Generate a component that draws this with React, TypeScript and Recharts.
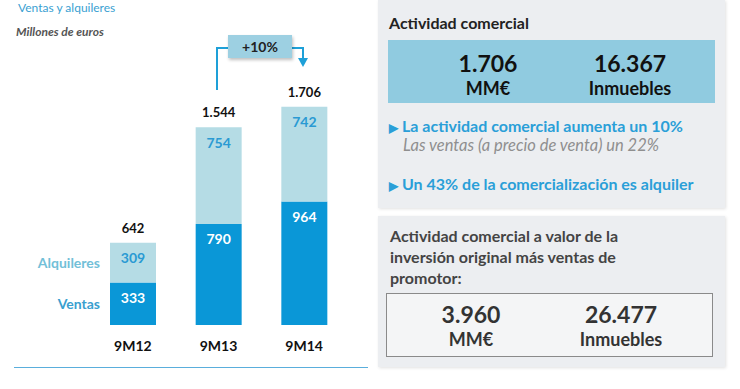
import React from "react";
import { BarChart, Bar, XAxis, YAxis, LabelList } from "recharts";

// Ventas y alquileres, millones de euros
const categories = ["9M12", "9M13", "9M14"];
const ventas = [333, 790, 964];
const alquileres = [309, 754, 742];
const totals = ["642", "1.544", "1.706"];

const data = categories.map((periodo, i) => ({
  periodo,
  ventas: ventas[i],
  alquileres: alquileres[i],
  total: totals[i],
}));

const FONT = "Lato, 'Open Sans', sans-serif";
const DARK = "#0a97d7";
const LIGHT = "#b5dce5";

const box = (p: any) => {
  const vb = p.viewBox || {};
  return {
    x: Number(p.x ?? vb.x),
    y: Number(p.y ?? vb.y),
    w: Number(p.width ?? vb.width),
    h: Number(p.height ?? vb.height),
  };
};

const insideLabel = (color: string) => (p: any) => {
  const { x, y, w } = box(p);
  return (
    <text x={x + w / 2} y={y + 15} fill={color} fontSize={14} fontWeight={700}
      textAnchor="middle" dominantBaseline="central" fontFamily={FONT}>
      {p.value}
    </text>
  );
};

const totalLabel = (p: any) => {
  const { x, y, w } = box(p);
  return (
    <text x={x + w / 2} y={y - 15} fill="#111" fontSize={13} fontWeight={700}
      textAnchor="middle" dominantBaseline="central" fontFamily={FONT}>
      {p.value}
    </text>
  );
};

const seriesName = (name: string, color: string) => (p: any) => {
  if (p.index !== 0) return null;
  const { x, y, h } = box(p);
  return (
    <text x={x - 10} y={y + h / 2} fill={color} fontSize={14} fontWeight={700}
      textAnchor="end" dominantBaseline="central" fontFamily={FONT}>
      {name}
    </text>
  );
};

const Figure = ({ top, bottom, left }: { top: string; bottom: string; left: number }) => (
  <div style={{ position: "absolute", left: left - 80, width: 160, top: 0, textAlign: "center", fontWeight: 700 }}>
    <div style={{ fontSize: 23, lineHeight: "24px", height: 24 }}>{top}</div>
    <div style={{ fontSize: 18, lineHeight: "20px", marginTop: 3 }}>{bottom}</div>
  </div>
);

export default function App() {
  return (
    <div style={{ position: "absolute", left: 0, top: 0, width: 740, height: 389, background: "#fff", fontFamily: FONT, overflow: "hidden" }}>
      <div style={{ position: "absolute", left: 18, top: 0, fontSize: 12, color: "#3a9fd2" }}>Ventas y alquileres</div>
      <div style={{ position: "absolute", left: 16, top: 24, fontSize: 12, color: "#555", fontStyle: "italic", fontWeight: 700 }}>Millones de euros</div>

      <div style={{ position: "absolute", left: 0, top: 0 }}>
        <BarChart width={370} height={389} data={data} margin={{ top: 69, right: 23, bottom: 34, left: 90 }}>
          <XAxis dataKey="periodo" axisLine={false} tickLine={false} tickMargin={10}
            tick={{ fill: "#111", fontSize: 14, fontWeight: 700, fontFamily: FONT }} />
          <YAxis hide domain={[0, 2000]} />
          <Bar dataKey="ventas" stackId="a" fill={DARK} barSize={46} isAnimationActive={false}>
            <LabelList dataKey="ventas" content={insideLabel("#fff")} />
            <LabelList dataKey="ventas" content={seriesName("Ventas", "#3a9fcf")} />
          </Bar>
          <Bar dataKey="alquileres" stackId="a" fill={LIGHT} barSize={46} isAnimationActive={false}>
            <LabelList dataKey="alquileres" content={insideLabel("#2a9ad3")} />
            <LabelList dataKey="alquileres" content={seriesName("Alquileres", "#72c0d8")} />
            <LabelList dataKey="total" content={totalLabel} />
          </Bar>
        </BarChart>
      </div>

      {/* +10% annotation */}
      <svg style={{ position: "absolute", left: 0, top: 0 }} width={370} height={120}>
        <polyline points="217,90 217,48 228,48" fill="none" stroke="#1ea0d8" strokeWidth={2} />
        <polyline points="292,48 303,48 303,60" fill="none" stroke="#1ea0d8" strokeWidth={2} />
        <polygon points="298,58 308,58 303,67" fill="#1ea0d8" />
      </svg>
      <div style={{ position: "absolute", left: 228, top: 35, width: 64, height: 23, background: "#9dd0e2", boxShadow: "1px 2px 3px rgba(0,0,0,0.25)", textAlign: "center", lineHeight: "23px", fontSize: 14, fontWeight: 700, color: "#222" }}>+10%</div>

      <div style={{ position: "absolute", left: 14, top: 367, width: 354, height: 1, background: "#5aaedc" }} />

      {/* panel 1 */}
      <div style={{ position: "absolute", left: 378, top: 0, width: 347, height: 208, background: "#eceef1", boxShadow: "1px 1px 3px rgba(0,0,0,0.12)" }}>
        <div style={{ position: "absolute", left: 11, top: 13, fontSize: 16, fontWeight: 700, color: "#222" }}>Actividad comercial</div>
        <div style={{ position: "absolute", left: 10, top: 40, width: 327, height: 63, background: "#90cbe0", color: "#111" }}>
          <div style={{ position: "absolute", top: 11, left: 0, width: 327 }}>
            <Figure top="1.706" bottom="MM€" left={100} />
            <Figure top="16.367" bottom="Inmuebles" left={242} />
          </div>
        </div>
        <div style={{ position: "absolute", left: 11, top: 116, fontSize: 16, fontWeight: 700, color: "#2a9fd8", whiteSpace: "nowrap" }}>
          <span style={{ fontSize: 12, marginRight: 4 }}>▶</span>La actividad comercial aumenta un 10%
        </div>
        <div style={{ position: "absolute", left: 25, top: 135, fontSize: 16.5, fontStyle: "italic", color: "#8f8f8f", whiteSpace: "nowrap" }}>Las ventas (a precio de venta) un 22%</div>
        <div style={{ position: "absolute", left: 11, top: 174, fontSize: 16, fontWeight: 700, color: "#2a9fd8", whiteSpace: "nowrap" }}>
          <span style={{ fontSize: 12, marginRight: 4 }}>▶</span>Un 43% de la comercialización es alquiler
        </div>
      </div>

      {/* panel 2 */}
      <div style={{ position: "absolute", left: 378, top: 216, width: 347, height: 151, background: "#eceef1", boxShadow: "1px 1px 3px rgba(0,0,0,0.12)" }}>
        <div style={{ position: "absolute", left: 12, top: 9, width: 320, fontSize: 16, fontWeight: 700, color: "#444", lineHeight: "21px" }}>
          Actividad comercial a valor de la<br />inversión original más ventas de<br />promotor:
        </div>
        <div style={{ position: "absolute", left: 8, top: 77, width: 325, height: 62, background: "#f4f5f6", border: "1px solid #8a8a8a", color: "#333" }}>
          <div style={{ position: "absolute", top: 8, left: 0, width: 325 }}>
            <Figure top="3.960" bottom="MM€" left={84} />
            <Figure top="26.477" bottom="Inmuebles" left={234} />
          </div>
        </div>
      </div>
    </div>
  );
}
